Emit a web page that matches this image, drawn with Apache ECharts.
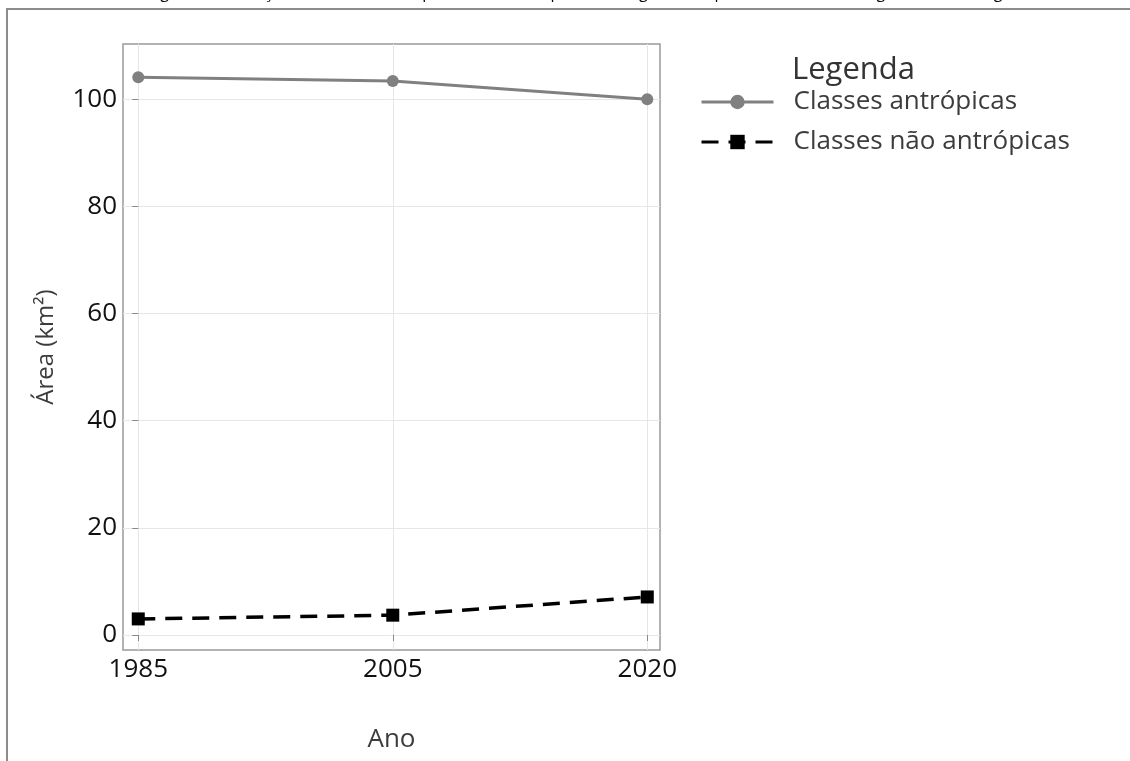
<!DOCTYPE html>
<html>
<head>
<meta charset="utf-8">
<script src="https://cdn.jsdelivr.net/npm/echarts@6/dist/echarts.min.js"></script>
<style>html,body{margin:0;padding:0;background:#fff;}#c{width:1130px;height:761px;}</style>
</head>
<body>
<div id="c"></div>
<script>
const years = ['1985', '2005', '2020'];
const antropicas = [104.1, 103.4, 100.0];
const naoAntropicas = [3.0, 3.7, 7.1];
const yTicks = [0, 20, 40, 60, 80, 100];
const xTicks = years.map((y, i) => i);
const seriesNames = ['Classes antrópicas', 'Classes não antrópicas'];
const caption = 'Figura 5 – Evolução das classes antrópicas e não antrópicas ao longo do tempo na sub-bacia hidrográfica do córrego';

const FONT = '"Open Sans", "Noto Sans", sans-serif';
const chart = echarts.init(document.getElementById('c'), null, {renderer: 'canvas'});
chart.setOption({
  backgroundColor: '#fff',
  animation: false,
  textStyle: {fontFamily: FONT},
  title: [{
    text: 'Legenda', left: 787, top: 50,
    textStyle: {fontFamily: FONT, fontSize: 31, fontWeight: 'normal', color: '#333'}
  }],
  graphic: [
    {type: 'rect', shape: {x: 7, y: 9, width: 1200, height: 800}, style: {fill: 'none', stroke: '#8c8c8c', lineWidth: 2}, z: -1},
    {type: 'text', x: 580, y: 1, style: {text: caption, fontSize: 16, fontFamily: FONT, fill: '#000', align: 'center', verticalAlign: 'bottom'}}
  ],
  legend: {
    orient: 'vertical', left: 695, top: 82,
    itemWidth: 72, itemHeight: 18, itemGap: 10,
    data: seriesNames,
    lineStyle: {width: 3},
    textStyle: {fontFamily: FONT, fontSize: 26, color: '#3c3c3c', lineHeight: 30, padding: [0, 0, 0, 15]}
  },
  grid: {left: 123, right: 470, top: 44, bottom: 111, show: true, borderColor: '#999', borderWidth: 1.5, containLabel: false},
  xAxis: {
    type: 'value', min: -0.06, max: 2.05,
    name: 'Ano', nameLocation: 'middle', nameGap: 77,
    nameTextStyle: {fontFamily: FONT, fontSize: 26, color: '#3c3c3c'},
    axisLine: {show: false},
    axisTick: {show: true, length: 6, customValues: xTicks, lineStyle: {color: '#888'}},
    axisLabel: {customValues: xTicks, margin: 7, fontSize: 26, color: '#111', fontFamily: FONT, formatter: v => years[Math.round(v)]},
    splitLine: {show: true, lineStyle: {color: '#e6e6e6', width: 1}}
  },
  yAxis: {
    type: 'value', min: -2.8, max: 110.3,
    name: 'Área (km²)', nameLocation: 'middle', nameGap: 65,
    nameTextStyle: {fontFamily: FONT, fontSize: 24, color: '#3c3c3c'},
    axisLine: {show: false},
    axisTick: {show: true, length: 6, customValues: yTicks, lineStyle: {color: '#888'}},
    axisLabel: {customValues: yTicks, margin: 6, fontSize: 26, color: '#111', fontFamily: FONT},
    splitLine: {show: true, lineStyle: {color: '#e6e6e6', width: 1}}
  },
  series: [
    {
      name: seriesNames[0], type: 'line',
      data: years.map((y, i) => [i, antropicas[i]]),
      symbol: 'circle', symbolSize: 12,
      lineStyle: {color: '#808080', width: 3},
      itemStyle: {color: '#808080'}
    },
    {
      name: seriesNames[1], type: 'line',
      data: years.map((y, i) => [i, naoAntropicas[i]]),
      symbol: 'rect', symbolSize: 13,
      lineStyle: {color: '#000', width: 3.5, type: [17, 10]},
      itemStyle: {color: '#000'}
    }
  ]
});
</script>
</body>
</html>
